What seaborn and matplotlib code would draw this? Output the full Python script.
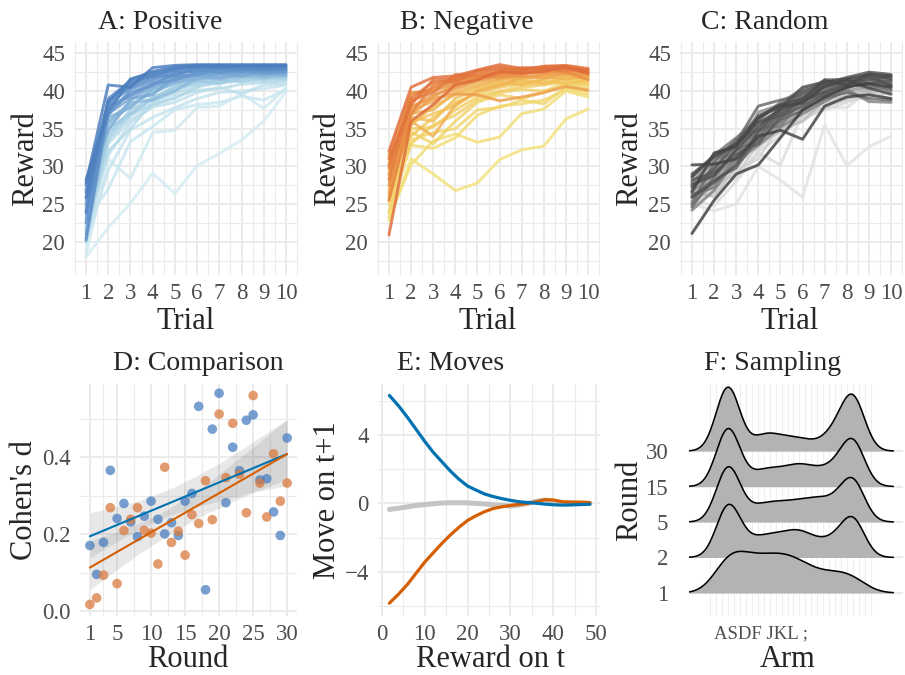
import numpy as np
import pandas as pd
import matplotlib
matplotlib.use("Agg")
import matplotlib.pyplot as plt
from matplotlib.colors import LinearSegmentedColormap
import seaborn as sns

# ---------------- data ----------------
trials = list(range(1, 11))

positive_lines = [
    [18.0, 21.9, 25.1, 29.1, 26.4, 30.1, 31.7, 33.5, 36.0, 39.9],
    [18.3, 31.0, 28.4, 34.5, 34.8, 37.8, 38.0, 39.6, 37.7, 40.4],
    [22.8, 27.0, 33.3, 35.3, 37.5, 38.2, 38.5, 39.3, 38.8, 40.2],
    [20.0, 29.5, 34.8, 36.5, 37.8, 39.0, 39.8, 40.0, 40.3, 40.8],
    [23.5, 31.5, 35.8, 37.9, 38.5, 39.8, 40.5, 39.6, 40.8, 41.0],
    [19.8, 33.0, 36.2, 38.0, 39.3, 40.1, 40.3, 40.9, 41.1, 41.3],
    [21.5, 32.0, 35.0, 38.6, 39.7, 40.7, 41.0, 41.4, 41.2, 41.5],
    [24.5, 34.5, 36.8, 38.3, 39.0, 40.5, 41.3, 41.6, 41.5, 41.7],
    [21.8, 33.5, 36.8, 39.0, 40.5, 41.2, 41.6, 41.5, 42.0, 41.6],
    [22.0, 34.0, 37.5, 39.2, 40.2, 41.0, 41.5, 41.2, 41.8, 41.9],
    [25.5, 35.0, 37.0, 39.0, 40.6, 41.3, 41.0, 41.8, 42.0, 41.8],
    [20.5, 35.5, 38.2, 39.8, 41.0, 41.5, 41.8, 42.0, 41.6, 42.1],
    [24.8, 35.8, 38.0, 40.0, 41.0, 41.8, 41.5, 42.1, 41.9, 42.4],
    [26.0, 36.0, 38.5, 38.8, 40.0, 41.7, 42.0, 41.9, 42.2, 42.0],
    [23.0, 36.5, 37.8, 40.3, 41.2, 41.6, 42.2, 42.3, 42.0, 42.3],
    [27.0, 34.8, 38.8, 40.5, 41.5, 42.0, 41.7, 42.4, 42.5, 42.2],
    [21.0, 37.0, 39.0, 39.5, 41.8, 42.3, 42.4, 42.0, 42.6, 42.5],
    [26.8, 37.0, 39.8, 40.8, 41.7, 42.1, 42.3, 42.6, 42.3, 42.5],
    [24.0, 37.5, 39.6, 41.0, 41.4, 42.5, 42.6, 42.7, 42.4, 42.6],
    [25.0, 36.8, 40.2, 41.3, 42.0, 42.2, 42.8, 42.5, 42.8, 42.7],
    [22.5, 38.0, 39.3, 40.8, 42.3, 42.8, 42.5, 42.9, 42.9, 42.8],
    [26.5, 38.3, 40.5, 41.6, 42.5, 42.6, 43.0, 42.8, 43.0, 42.9],
    [20.2, 37.8, 40.8, 41.9, 42.1, 43.0, 42.9, 43.1, 42.7, 43.0],
    [27.5, 38.7, 41.0, 42.2, 42.7, 43.1, 43.2, 43.0, 43.1, 43.1],
    [23.8, 39.0, 41.3, 42.0, 42.9, 43.2, 43.1, 43.3, 43.2, 43.2],
    [28.2, 37.2, 41.6, 42.4, 43.0, 43.3, 43.4, 43.2, 43.3, 43.3],
    [25.8, 38.5, 41.5, 42.6, 43.2, 43.4, 43.3, 43.4, 43.4, 43.4],
    [27.8, 40.8, 40.5, 43.1, 43.4, 43.5, 43.5, 43.5, 43.5, 43.5],
]

negative_lines = [
    [22.8, 31.0, 29.0, 26.8, 27.8, 30.9, 32.2, 32.7, 36.3, 37.6],
    [23.2, 30.2, 33.4, 34.3, 33.2, 33.9, 37.0, 37.6, 40.0, 39.2],
    [24.0, 32.8, 32.4, 33.8, 36.8, 38.0, 38.3, 38.8, 40.2, 39.6],
    [25.0, 33.5, 34.5, 35.0, 37.5, 37.8, 38.8, 38.3, 40.5, 40.0],
    [23.8, 34.6, 33.0, 36.0, 38.5, 39.5, 39.0, 39.8, 40.8, 40.4],
    [26.5, 33.0, 35.5, 36.8, 38.8, 39.8, 40.2, 40.0, 41.0, 40.8],
    [28.0, 35.0, 35.2, 37.5, 39.2, 40.0, 40.5, 40.8, 41.2, 41.0],
    [29.5, 34.0, 36.5, 38.5, 39.6, 40.5, 40.9, 41.0, 41.5, 41.2],
    [25.5, 35.8, 37.0, 38.0, 40.0, 40.8, 41.2, 41.3, 41.0, 41.5],
    [30.0, 36.5, 36.0, 39.0, 40.3, 41.0, 41.4, 41.0, 41.8, 41.6],
    [27.0, 35.5, 38.0, 39.5, 40.6, 41.2, 40.8, 41.6, 42.0, 41.8],
    [31.2, 37.0, 37.5, 39.8, 40.8, 41.5, 41.6, 41.8, 41.6, 41.9],
    [28.8, 36.0, 34.0, 38.2, 40.0, 40.7, 41.8, 42.0, 42.2, 42.0],
    [26.0, 37.5, 38.6, 40.2, 41.2, 41.6, 42.0, 41.7, 42.3, 42.1],
    [26.5, 36.8, 39.2, 40.9, 41.6, 42.1, 42.6, 42.5, 42.7, 41.9],
    [30.5, 38.0, 39.0, 39.6, 39.5, 38.7, 39.2, 39.8, 40.6, 40.1],
    [29.0, 37.8, 39.5, 40.5, 41.4, 42.0, 41.9, 42.2, 42.4, 42.2],
    [31.5, 39.8, 40.0, 41.0, 41.8, 42.2, 42.5, 42.4, 42.8, 42.5],
    [30.2, 39.5, 40.3, 41.4, 41.9, 41.8, 42.3, 42.7, 42.5, 41.5],
    [27.5, 38.5, 40.5, 41.5, 42.0, 42.5, 42.2, 42.8, 43.0, 42.6],
    [25.5, 37.0, 40.8, 41.8, 42.2, 42.8, 42.9, 43.0, 42.6, 42.9],
    [28.3, 38.8, 39.8, 42.2, 42.0, 42.3, 43.1, 42.9, 42.9, 42.7],
    [29.8, 39.0, 41.2, 41.2, 42.5, 43.0, 42.7, 43.3, 43.4, 43.0],
    [31.0, 38.2, 41.5, 41.6, 42.7, 43.2, 42.8, 43.0, 43.1, 42.3],
    [32.0, 40.5, 41.8, 42.0, 42.8, 43.5, 43.0, 43.2, 43.3, 42.8],
    [20.9, 36.0, 38.2, 40.8, 41.5, 42.6, 42.4, 42.6, 43.2, 42.4],
]

random_lines = [
    [25.0, 24.1, 25.0, 30.0, 28.2, 25.9, 35.5, 30.1, 32.6, 34.0],
    [25.5, 24.8, 28.0, 31.8, 30.2, 37.0, 37.8, 37.8, 40.0, 38.8],
    [26.0, 26.5, 28.5, 32.0, 34.0, 36.5, 37.5, 38.5, 39.5, 39.0],
    [24.5, 27.0, 29.5, 31.0, 35.5, 36.0, 38.0, 38.8, 39.2, 39.8],
    [27.0, 27.8, 28.8, 33.0, 34.5, 36.8, 38.5, 39.0, 40.2, 39.5],
    [25.8, 28.5, 30.5, 32.5, 35.0, 37.2, 37.8, 39.5, 39.8, 40.5],
    [26.5, 26.0, 30.0, 34.0, 36.0, 37.5, 39.0, 39.2, 40.5, 40.2],
    [28.0, 29.0, 31.0, 33.5, 34.8, 36.0, 38.8, 40.0, 39.5, 40.8],
    [24.8, 28.0, 31.5, 35.0, 36.5, 38.0, 39.3, 39.8, 40.8, 40.0],
    [27.5, 30.0, 32.0, 33.2, 35.8, 38.5, 39.8, 40.3, 40.0, 41.0],
    [26.2, 29.5, 32.5, 36.0, 37.0, 37.8, 39.5, 40.5, 41.2, 40.6],
    [26.8, 28.0, 31.5, 35.5, 36.5, 38.2, 39.8, 40.6, 41.4, 40.4],
    [28.5, 31.0, 31.8, 34.5, 37.5, 39.0, 40.0, 40.0, 40.6, 41.2],
    [25.2, 27.5, 33.0, 35.5, 36.2, 39.3, 40.5, 41.0, 40.3, 40.9],
    [25.4, 29.2, 30.8, 33.6, 35.6, 37.6, 40.2, 41.0, 41.2, 41.6],
    [27.8, 30.8, 33.5, 36.8, 37.8, 38.2, 40.2, 40.8, 41.5, 41.5],
    [26.8, 29.0, 31.2, 37.2, 38.2, 39.8, 39.8, 41.2, 41.0, 41.8],
    [27.9, 30.6, 33.4, 34.2, 37.0, 39.2, 40.0, 41.4, 40.9, 40.0],
    [24.2, 26.8, 30.8, 32.8, 35.2, 37.0, 38.6, 40.2, 38.6, 38.5],
    [26.3, 27.2, 31.4, 34.8, 35.4, 38.9, 39.4, 40.4, 41.8, 41.0],
    [28.8, 31.5, 33.8, 36.2, 38.5, 40.2, 41.0, 40.7, 41.8, 41.3],
    [25.0, 30.5, 33.6, 34.8, 36.0, 39.8, 40.4, 41.0, 40.8, 40.2],
    [24.6, 28.6, 32.2, 33.4, 36.2, 37.4, 39.0, 39.8, 39.0, 38.8],
    [27.2, 29.8, 33.2, 38.0, 38.8, 39.5, 41.5, 41.5, 42.0, 41.9],
    [26.0, 28.2, 29.8, 33.8, 37.2, 38.6, 40.8, 41.3, 41.5, 42.0],
    [27.3, 29.6, 32.9, 35.9, 37.4, 40.0, 40.8, 41.6, 41.0, 41.3],
    [28.2, 29.2, 31.6, 33.0, 36.6, 38.0, 39.6, 40.6, 41.6, 40.8],
    [29.0, 31.2, 32.8, 35.8, 36.8, 38.8, 41.0, 41.8, 42.5, 42.2],
    [25.9, 27.9, 30.2, 34.6, 37.6, 38.7, 39.9, 40.9, 42.0, 40.7],
    [27.6, 28.8, 32.2, 35.2, 37.8, 40.5, 41.2, 41.6, 42.2, 41.6],
    [28.6, 31.4, 33.0, 36.6, 38.2, 39.0, 41.4, 40.8, 42.3, 42.0],
    [26.6, 31.8, 32.6, 36.4, 38.0, 38.4, 40.6, 41.4, 40.4, 39.6],
    [30.2, 30.3, 31.0, 34.0, 34.8, 33.6, 38.0, 39.2, 39.5, 39.0],
    [21.1, 25.5, 29.0, 30.2, 33.8, 37.5, 39.2, 40.5, 41.0, 40.5],
]

rounds = list(range(1, 31))
d_positive = [0.171, 0.096, 0.179, 0.366, 0.241, 0.280, 0.232, 0.194, 0.247, 0.286,
              0.239, 0.201, 0.230, 0.197, 0.286, 0.306, 0.532, 0.056, 0.473, 0.566,
              0.282, 0.426, 0.365, 0.496, 0.510, 0.341, 0.344, 0.258, 0.197, 0.450]
d_negative = [0.018, 0.035, 0.094, 0.269, 0.072, 0.210, 0.239, 0.269, 0.210, 0.203,
              0.123, 0.374, 0.179, 0.208, 0.146, 0.251, 0.228, 0.339, 0.238, 0.512,
              0.347, 0.488, 0.356, 0.256, 0.560, 0.333, 0.245, 0.409, 0.286, 0.333]

reward_t = [1.8, 4, 6, 8, 10, 12, 14, 16, 18, 20, 22, 24, 26, 28, 30, 32, 34, 36, 38, 40, 42, 44, 46, 48.5]
move_positive = [6.33, 5.7, 5.05, 4.35, 3.65, 3.0, 2.45, 1.9, 1.42, 1.02, 0.78, 0.55, 0.4, 0.28,
                 0.18, 0.1, 0.05, 0.01, -0.04, -0.08, -0.1, -0.09, -0.07, -0.05]
move_negative = [-5.85, -5.3, -4.75, -4.1, -3.45, -2.9, -2.35, -1.85, -1.4, -1.0, -0.72, -0.48,
                 -0.3, -0.2, -0.12, -0.06, 0.0, 0.1, 0.22, 0.2, 0.1, 0.08, 0.08, 0.05]
move_random = [-0.35, -0.28, -0.2, -0.12, -0.07, -0.02, 0.02, 0.04, 0.04, 0.03, 0.0, -0.03,
               -0.08, -0.12, -0.15, -0.1, 0.0, 0.12, 0.2, 0.1, 0.02, 0.0, 0.0, 0.0]

arm_labels = ["ASDF", "JKL", ";"]
n_arms = 8
ridge_rounds = [1, 2, 5, 15, 30]
sampling_r1 = [22, 15, 15, 17, 14, 8, 9, 9]
sampling_r2 = [45, 9, 13, 14, 17, 10, 11, 33]
sampling_r5 = [50, 6, 12, 12, 13, 15, 13, 37]
sampling_r15 = [55, 4, 12, 11, 15, 11, 13, 42]
sampling_r30 = [62, 1, 13, 9.3, 8.5, 4.9, 14.6, 50.4]
sampling_bw = [0.85, 0.66, 0.66, 0.66, 0.66]

# ---------------- style ----------------
sns.set_theme(style="white")
plt.rcParams['font.family'] = ['Liberation Serif', 'DejaVu Serif']
plt.rcParams['axes.unicode_minus'] = True

W, H = 905, 675
fig = plt.figure(figsize=(W / 100, H / 100), dpi=100)
fig.patch.set_facecolor('white')

GRID = '#ebebeb'
TICK_C = '#4d4d4d'


def add_ax(l, r, t, b):
    return fig.add_axes([l / W, 1 - b / H, (r - l) / W, (b - t) / H])


def style(ax, xmaj, xmin, ymaj, ymin, xpad=5.5, ypad=6.5):
    ax.set_xticks(xmaj)
    ax.set_xticks(xmin, minor=True)
    ax.set_yticks(ymaj)
    ax.set_yticks(ymin, minor=True)
    ax.grid(True, which='major', color=GRID, lw=1.4)
    ax.grid(True, which='minor', color=GRID, lw=0.8)
    ax.set_axisbelow(True)
    ax.set_facecolor('white')
    for s in ax.spines.values():
        s.set_visible(False)
    ax.tick_params(which='both', length=0, labelsize=16.5, labelcolor=TICK_C)
    ax.tick_params(axis='x', pad=xpad)
    ax.tick_params(axis='y', pad=ypad)


def labels(ax, title, tx, ty, xl, xx, xy, yl, yx, yy):
    fig.text(tx / W, 1 - ty / H, title, ha='center', va='baseline', fontsize=20)
    ax.set_xlabel(xl, fontsize=22)
    ax.xaxis.set_label_coords(xx / W, 1 - xy / H, transform=fig.transFigure)
    ax.xaxis.label.set_va('baseline')
    ax.set_ylabel(yl, fontsize=22)
    ax.yaxis.set_label_coords(yx / W, 1 - yy / H, transform=fig.transFigure)
    ax.yaxis.label.set_va('baseline')
    ax.yaxis.label.set_ha('center')
    ax.yaxis.label.set_rotation_mode('anchor')


def line_panel(ax, lines, cmap):
    rows = [(i, t, v) for i, ln in enumerate(lines) for t, v in zip(trials, ln)]
    df = pd.DataFrame(rows, columns=['id', 'trial', 'reward'])
    sns.lineplot(data=df, x='trial', y='reward', hue='id', units='id', estimator=None,
                 palette=cmap, hue_norm=(0, len(lines) - 1), legend=False,
                 lw=2.1, alpha=0.82, ax=ax)
    style(ax, trials, [x + 0.5 for x in range(0, 11)], [20, 25, 30, 35, 40, 45],
          [17.5, 22.5, 27.5, 32.5, 37.5, 42.5])
    ax.set_xlim(0.46, 10.54)
    ax.set_ylim(15.6, 46.5)


cmap_pos = LinearSegmentedColormap.from_list('pos', ['#d3ecf3', '#a6d0e4', '#6a9bd0', '#4a7cbd'])
cmap_neg = LinearSegmentedColormap.from_list('neg', ['#f2e278', '#f3c45a', '#ec9548', '#df6a3a'])
cmap_rnd = LinearSegmentedColormap.from_list('rnd', ['#e2e2e2', '#a8a8a8', '#6a6a6a', '#3e3e3e'])

# Row 1
top1, bot1 = 42, 275
axA = add_ax(74, 298, top1, bot1)
line_panel(axA, positive_lines, cmap_pos)
labels(axA, 'A: Positive', 160, 29, 'Trial', 186, 329, 'Reward', 33, 158.5)

axB = add_ax(377, 600, top1, bot1)
line_panel(axB, negative_lines, cmap_neg)
labels(axB, 'B: Negative', 467, 29, 'Trial', 488, 329, 'Reward', 335, 158.5)

axC = add_ax(680, 903, top1, bot1)
line_panel(axC, random_lines, cmap_rnd)
labels(axC, 'C: Random', 765, 29, 'Trial', 790, 329, 'Reward', 637, 158.5)

# Row 2
top2, bot2 = 384, 616

# D: Comparison
axD = add_ax(80, 297, top2, bot2)
df_d = pd.DataFrame({'round': rounds * 2, 'd': d_positive + d_negative,
                     'cond': ['Positive'] * len(rounds) + ['Negative'] * len(rounds)})
pt_colors = {'Positive': '#4a7fc0', 'Negative': '#da7a40'}
line_colors = {'Positive': '#0072B2', 'Negative': '#D55E00'}
sns.scatterplot(data=df_d, x='round', y='d', hue='cond', palette=pt_colors, s=48,
                alpha=0.75, edgecolor='none', legend=False, ax=axD, zorder=2)
for cond, vals in [('Positive', d_positive), ('Negative', d_negative)]:
    sns.regplot(x=rounds, y=vals, scatter=False, color='#6a6a6a', seed=1,
                line_kws={'alpha': 0}, ax=axD)
for cond, vals in [('Positive', d_positive), ('Negative', d_negative)]:
    sns.regplot(x=rounds, y=vals, scatter=False, ci=None, color=line_colors[cond],
                line_kws={'lw': 1.5, 'zorder': 4}, ax=axD)
style(axD, [1, 5, 10, 15, 20, 25, 30], [3, 7.5, 12.5, 17.5, 22.5, 27.5],
      [0.0, 0.2, 0.4], [0.1, 0.3, 0.5])
axD.set_yticklabels(['0.0', '0.2', '0.4'])
axD.set_xlim(-0.45, 31.45)
axD.set_ylim(-0.012, 0.59)
labels(axD, 'D: Comparison', 198, 370, 'Round', 188, 667, "Cohen's d", 32, 500)

# E: Moves
axE = add_ax(378, 600, top2, bot2)
sns.lineplot(x=reward_t, y=move_random, color='#c4c4c4', lw=3.6, estimator=None, ax=axE)
sns.lineplot(x=reward_t, y=move_negative, color='#D55E00', lw=2.3, estimator=None, ax=axE)
sns.lineplot(x=reward_t, y=move_positive, color='#0072B2', lw=2.3, estimator=None, ax=axE)
style(axE, [0, 10, 20, 30, 40, 50], [5, 15, 25, 35, 45], [-4, 0, 4], [-6, -2, 2, 6])
axE.set_xlim(-0.85, 50.85)
axE.set_ylim(-6.6, 7.0)
labels(axE, 'E: Moves', 451, 370, 'Reward on t', 490, 667, 'Move on t+1', 335, 500)

# F: Sampling (ridgelines)
axF = add_ax(689, 903, top2, bot2)
arm_pos = np.arange(1, n_arms + 1)
xs = np.linspace(-1.184, 10.26, 500)
samples = [sampling_r1, sampling_r2, sampling_r5, sampling_r15, sampling_r30]
dens = []
for w, bw in zip(samples, sampling_bw):
    w = np.asarray(w, float) / np.sum(w)
    k = np.exp(-0.5 * ((xs[None, :] - arm_pos[:, None]) / bw) ** 2) / (bw * np.sqrt(2 * np.pi))
    dens.append((w[:, None] * k).sum(axis=0))
scale = 1.80 / max(d.max() for d in dens)
for pos in range(len(ridge_rounds) - 1, -1, -1):
    h = dens[pos] * scale
    z = 10 + (len(ridge_rounds) - pos) * 2
    axF.fill_between(xs, pos, pos + h, color='#b3b3b3', lw=0, zorder=z)
    axF.plot(xs, pos + h, color='black', lw=1.15, zorder=z + 1)
for s in axF.spines.values():
    s.set_visible(False)
axF.set_yticks(range(len(ridge_rounds)))
axF.set_yticklabels([str(r) for r in ridge_rounds])
axF.set_xticks([2.85])
axF.set_xticklabels([' '.join(arm_labels)], fontsize=13.5)
axF.set_xticks([k / 3 for k in range(28)], minor=True)
axF.grid(True, axis='y', which='major', color=GRID, lw=1.4)
axF.grid(True, axis='x', which='minor', color='#efefef', lw=0.8)
axF.grid(False, axis='x', which='major')
axF.set_axisbelow(True)
axF.tick_params(which='both', length=0, labelcolor=TICK_C)
axF.tick_params(axis='y', labelsize=16.5, pad=15)
axF.tick_params(axis='x', pad=7)
axF.set_xlim(-1.184, 10.8)
axF.set_ylim(-0.65, 5.89)
labels(axF, 'F: Sampling', 773, 370, 'Arm', 788, 667, 'Round', 637, 500)

fig.savefig('out.png', dpi=100, facecolor='white')
